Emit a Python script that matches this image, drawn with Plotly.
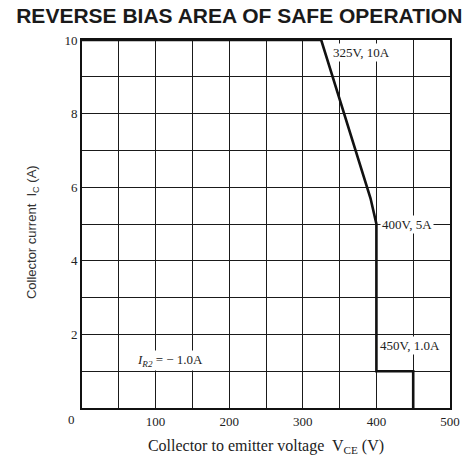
"""
plot.py - Reverse bias area of safe operation (RBSOA)
"""

import plotly.graph_objects as go

# límite del área segura (V, A)
vce_limite = [0, 325, 392, 397, 400, 400, 450, 450]
ic_limite = [10, 10, 5.7, 5.25, 5.0, 1.0, 1.0, 0]

x_ticks = [100, 200, 300, 400, 500]
y_ticks = [2, 4, 6, 8, 10]

etiquetas = [
    # texto, x, y
    ('325V, 10A', 380, 9.67),
    ('400V, 5A', 442, 5.0),
    ('450V, 1.0A', 446, 1.7),
    ('<i>I<sub>R2</sub></i> = − 1.0A', 119, 1.3),
]

SERIF = 'Liberation Serif, Times New Roman, serif'
SANS = 'Liberation Sans, Arial, sans-serif'
TXT = '#222222'

fig = go.Figure()

fig.add_trace(go.Scatter(
    x=vce_limite,
    y=ic_limite,
    mode='lines',
    line=dict(color='#111111', width=2.6),
    showlegend=False,
    hoverinfo='skip',
))

for texto, x, y in etiquetas:
    fig.add_annotation(
        x=x, y=y, text=texto, showarrow=False,
        font=dict(family=SERIF, size=13, color=TXT),
        bgcolor='white', borderpad=1,
    )

# "0" común del origen
fig.add_annotation(
    x=0, y=0, text='0', showarrow=False,
    xanchor='right', yanchor='top', xshift=-5, yshift=-2,
    font=dict(family=SERIF, size=13, color=TXT),
)

# título del eje Y
fig.add_annotation(
    xref='paper', yref='paper', x=0, y=0.478,
    xanchor='center', yanchor='middle', xshift=-50,
    text='Collector current  I<sub>C</sub> (A)', textangle=-90,
    showarrow=False,
    font=dict(family=SANS, size=13, color='#333333'),
)

fig.update_layout(
    width=471,
    height=466,
    title=dict(
        text='<b>REVERSE BIAS AREA OF SAFE OPERATION</b>',
        x=0.508, xanchor='center', y=0.966, yanchor='middle',
        font=dict(family=SANS, size=21, color='#1a1a1a'),
    ),
    plot_bgcolor='white',
    paper_bgcolor='white',
    margin=dict(l=82, r=11, t=40, b=58),
    font=dict(family=SERIF, size=13, color=TXT),
)

fig.update_xaxes(
    range=[0, 500],
    tickvals=x_ticks,
    ticks='',
    showgrid=True, gridcolor='#1a1a1a', gridwidth=1.4,
    minor=dict(dtick=50, showgrid=True, gridcolor='#1a1a1a', gridwidth=1.4),
    showline=True, linecolor='#111111', linewidth=2, mirror=True,
    zeroline=False,
    title=dict(
        text='Collector to emitter voltage  V<sub>CE</sub> (V)',
        font=dict(family=SERIF, size=16, color=TXT),
        standoff=12,
    ),
)

fig.update_yaxes(
    range=[0, 10],
    tickvals=y_ticks,
    ticks='',
    showgrid=True, gridcolor='#1a1a1a', gridwidth=1.4,
    minor=dict(dtick=1, showgrid=True, gridcolor='#1a1a1a', gridwidth=1.4),
    showline=True, linecolor='#111111', linewidth=2, mirror=True,
    zeroline=False,
)

# sin margen ni barras de desplazamiento: la figura ocupa exactamente la ventana
fig.write_html(
    "out.html",
    config={'displayModeBar': False},
    post_script="document.body.style.margin='0';document.body.style.overflow='hidden';",
)
